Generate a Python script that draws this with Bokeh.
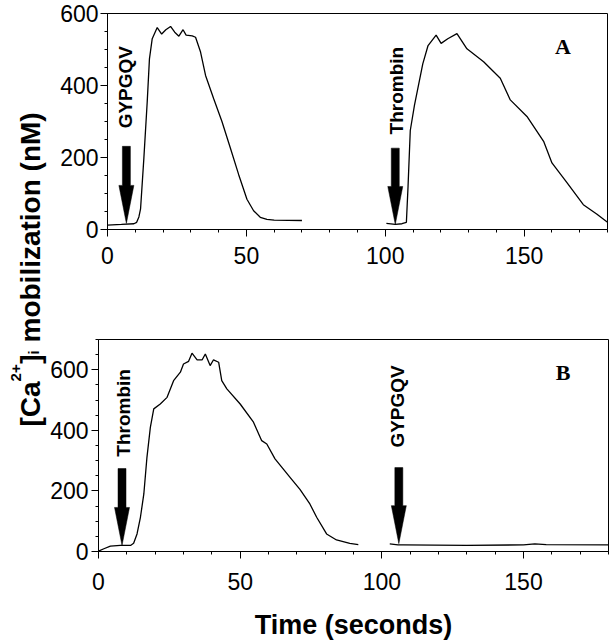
import math
from bokeh.plotting import figure
from bokeh.layouts import row, column
from bokeh.models import Range1d, SingleIntervalTicker, Label
from bokeh.core.properties import value
from bokeh.embed import file_html
from bokeh.resources import INLINE

# ---------------- Panel A data ----------------
a_gyp_t = [0, 5, 9.5, 10.5, 11.3, 11.9, 13.1, 14.3, 15.1, 16.1, 17.9, 19.5, 21.0, 22.7, 24.2,
           25.7, 27.2, 28.3, 30.5, 31.7, 33.5, 35.3, 38.2, 41.2, 44.2, 47.2, 50.2, 52.6, 55.0,
           57.4, 60, 70]
a_gyp_ca = [12, 14, 16, 20, 35, 57, 199, 355, 474, 530, 561, 543, 555, 564, 548,
            537, 555, 540, 538, 534, 493, 428, 364, 300, 227, 153, 84, 52, 34,
            28, 26, 25]
a_thr_t = [100.4, 103.6, 106, 107.6, 108.2, 109, 110.5, 113.5, 115.4, 118.3, 120.1, 122.5,
           125.8, 129.4, 135.4, 141.4, 145, 151, 157, 160, 165.4, 171.3, 176.1, 180]
a_thr_ca = [17, 14, 16, 20, 120, 275, 345, 460, 511, 540, 517, 530,
            544, 502, 466, 420, 360, 314, 245, 185, 130, 69, 43, 20]
a_arrow_t = [6.8, 103.6]
a_arrow_tip = [17, 14]
a_arrow_top = [231, 226]
a_agents = ["GYPGQV", "Thrombin"]
a_agent_t = [6.5, 104.0]
a_agent_ca = [281, 264]

# ---------------- Panel B data ----------------
b_thr_t = [0, 1.9, 4.2, 7.7, 11.3, 12.4, 13.6, 14.8, 16.0, 17.1, 18.3, 19.5, 21.8, 24.2, 26.5,
           28.9, 30.0, 31.8, 33.0, 34.8, 36.6, 37.7, 39.4, 40.6, 42.4, 43.5, 45.3, 50.0, 54.7,
           57.6, 59.4, 62.3, 67.6, 71.1, 74.6, 77.0, 80.5, 84.0, 88.7, 91.7]
b_thr_ca = [1, 9, 18, 20, 20, 27, 58, 113, 190, 311, 410, 471, 487, 509, 564,
            592, 619, 628, 655, 633, 633, 652, 614, 633, 625, 564, 537, 487, 427,
            366, 355, 306, 245, 205, 157, 113, 58, 38, 27, 23]
b_gyp_t = [102.8, 105.7, 107.5, 130, 150, 154, 158, 180]
b_gyp_ca = [25, 22, 22, 20, 22, 25, 23, 22]
b_arrow_t = [8.3, 106.0]
b_arrow_tip = [20, 26]
b_arrow_top = [274, 277]
b_agents = ["Thrombin", "GYPGQV"]
b_agent_t = [8.8, 105.6]
b_agent_ca = [313, 343]

x_max = 180
a_y_max = 600
b_y_max = 700
x_major = 50
y_major = 200

SANS = "Liberation Sans"
SERIF = "Liberation Serif"


def make_panel(series, arrow_t, arrow_tip, arrow_top, agents, agent_t, agent_ca,
               letter, letter_t, letter_ca, ymax, fw, fh, bl, bt, bb, br,
               x_standoff, y_standoff):
    p = figure(frame_width=fw, frame_height=fh,
               x_range=Range1d(0, x_max), y_range=Range1d(0, ymax),
               toolbar_location=None, output_backend="svg",
               min_border_left=bl, min_border_top=bt, min_border_bottom=bb,
               min_border_right=br)
    p.grid.visible = False
    p.outline_line_color = "black"
    p.outline_line_width = 1
    p.outline_line_alpha = 1
    p.background_fill_color = "white"
    p.border_fill_color = "white"

    for t, ca in series:
        p.line(t, ca, line_color="black", line_width=1.3)

    kx = x_max / fw
    ky = ymax / fh
    xs, ys = [], []
    for x0, tip, top in zip(arrow_t, arrow_tip, arrow_top):
        ws = 4 * kx
        wh = 7.5 * kx
        hb = tip + 38 * ky
        xs.append([x0 - ws, x0 + ws, x0 + ws, x0 + wh, x0, x0 - wh, x0 - ws])
        ys.append([top, top, hb, hb, tip, hb, hb])
    p.patches(xs, ys, fill_color="black", line_color="black", line_width=0.5)

    p.text(x=agent_t, y=agent_ca, text=agents, angle=math.pi / 2,
           text_align="left", text_baseline="middle",
           text_font=value(SANS), text_font_style="bold",
           text_font_size="19px", text_color="black")

    p.add_layout(Label(x=letter_t, y=letter_ca, text=letter, text_align="center",
                       text_baseline="middle", text_font=SERIF,
                       text_font_style="bold", text_font_size="22px",
                       text_color="black"))

    p.xaxis.ticker = SingleIntervalTicker(interval=x_major, num_minor_ticks=5)
    p.yaxis.ticker = SingleIntervalTicker(interval=y_major, num_minor_ticks=4)
    for ax in (p.xaxis, p.yaxis):
        ax.axis_line_color = "black"
        ax.axis_line_width = 1
        ax.major_tick_line_color = "black"
        ax.minor_tick_line_color = "black"
        ax.major_tick_in = 0
        ax.major_tick_out = 7
        ax.minor_tick_in = 0
        ax.minor_tick_out = 3
        ax.major_label_text_font = SANS
        ax.major_label_text_font_size = "23px"
        ax.major_label_text_color = "black"
    p.xaxis.major_label_standoff = x_standoff
    p.yaxis.major_label_standoff = y_standoff
    return p


# Shared y-axis label strip width; the panels start right after it
LW = 47
LH = 639

pa = make_panel([(a_gyp_t, a_gyp_ca), (a_thr_t, a_thr_ca)],
                a_arrow_t, a_arrow_tip, a_arrow_top, a_agents, a_agent_t, a_agent_ca,
                "A", 164, 507, a_y_max, 500, 216, 107 - LW, 13, 71, 3, 10, 2)
pb = make_panel([(b_thr_t, b_thr_ca), (b_gyp_t, b_gyp_ca)],
                b_arrow_t, b_arrow_tip, b_arrow_top, b_agents, b_agent_t, b_agent_ca,
                "B", 164, 591, b_y_max, 510, 212, 98 - LW, 39, 88, 2, 14, 3)
pb.xaxis.axis_label = "Time (seconds)"
pb.xaxis.axis_label_text_font = SANS
pb.xaxis.axis_label_text_font_style = "bold"
pb.xaxis.axis_label_text_font_size = "27px"
pb.xaxis.axis_label_text_color = "black"
pb.xaxis.axis_label_standoff = 17

lab = figure(width=LW, height=LH, x_range=Range1d(0, LW), y_range=Range1d(0, LH),
             x_axis_type=None, y_axis_type=None, min_border=0,
             toolbar_location=None, output_backend="svg", outline_line_color=None)
lab.grid.visible = False
pieces = [("[Ca", 30, 213, "28px"), ("2+", 15, 258.1, "15px"), ("]", 30, 275.7, "28px"),
          ("i", 33, 285, "15px"), ("mobilization (nM)", 30, 297, "28px")]
for txt, lx, ly, fs in pieces:
    lab.add_layout(Label(x=lx, y=ly, text=txt, angle=math.pi / 2, text_align="left",
                         text_baseline="alphabetic", text_font=SANS,
                         text_font_style="bold", text_font_size=fs, text_color="black"))

layout = row(lab, column(row(pa), row(pb), spacing=0), spacing=0)
open("out.html", "w").write(file_html(layout, INLINE))
